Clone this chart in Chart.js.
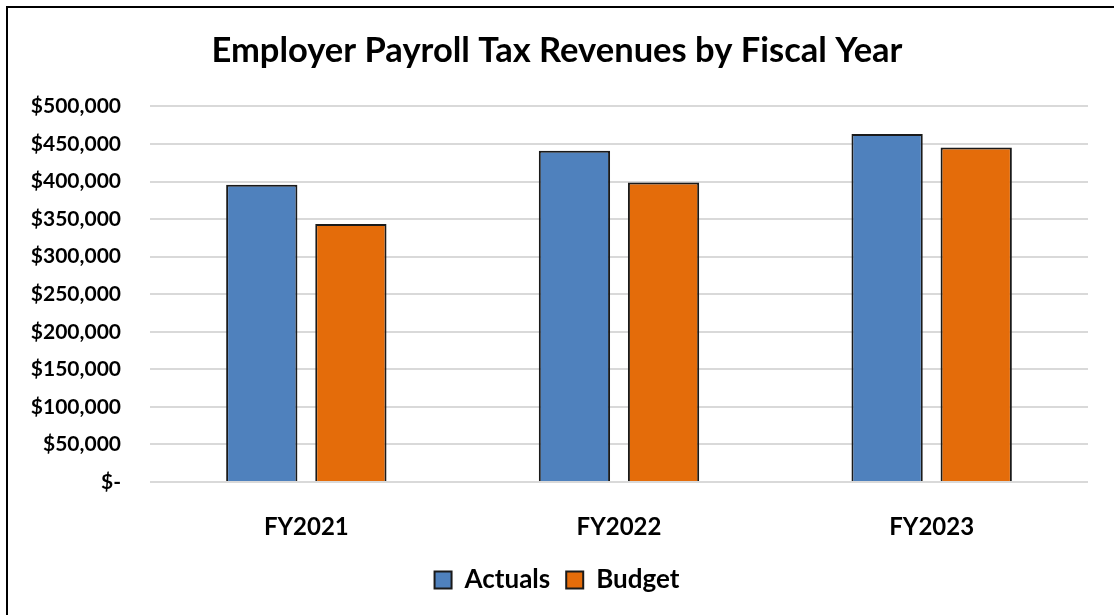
<!DOCTYPE html>
<html>
<head>
<meta charset="utf-8">
<script src="https://cdn.jsdelivr.net/npm/chart.js@4.4.1/dist/chart.umd.min.js"></script>
<style>
  html, body { margin: 0; padding: 0; background: #fff; overflow: hidden; }
  #wrap { position: relative; width: 1114px; height: 615px; }
  #frame {
    position: absolute; left: 6px; top: 6px; width: 1200px; height: 700px;
    border: 2px solid #000; pointer-events: none;
  }
</style>
</head>
<body>
<div id="wrap">
  <canvas id="myChart" width="1114" height="615"></canvas>
  <div id="frame"></div>
</div>
<script>
// ═══════════════════════════════════════
//  DONNÉES
// ═══════════════════════════════════════
const categories = ['FY2021', 'FY2022', 'FY2023'];
const actuals    = [395600, 440900, 463200];
const budget     = [343600, 398700, 445300];
const titleText  = 'Employer Payroll Tax Revenues by Fiscal Year';

const FONT = 'Lato, "Open Sans", sans-serif';

function money(v) {
  if (v === 0) return '$-';
  return '$' + v.toLocaleString('en-US');
}

const ctx = document.getElementById('myChart').getContext('2d');

new Chart(ctx, {
  type: 'bar',
  data: {
    labels: categories,
    datasets: [
      {
        label: 'Actuals',
        data: actuals,
        backgroundColor: '#4F81BD',
        borderColor: '#1a1a1a',
        borderWidth: 2,
        categoryPercentage: 0.57,
        barPercentage: 0.8
      },
      {
        label: 'Budget',
        data: budget,
        backgroundColor: '#E46C0A',
        borderColor: '#1a1a1a',
        borderWidth: 2,
        categoryPercentage: 0.57,
        barPercentage: 0.8
      }
    ]
  },
  options: {
    responsive: false,
    animation: false,
    layout: { padding: { left: 26, right: 26, top: 0, bottom: 12 } },
    plugins: {
      title: {
        display: true,
        text: titleText,
        color: '#000',
        font: { family: FONT, size: 34.5, weight: 'bold' },
        padding: { top: 30, bottom: 35 }
      },
      legend: {
        position: 'bottom',
        labels: {
          color: '#000',
          font: { family: FONT, size: 26, weight: 'bold' },
          boxWidth: 17,
          boxHeight: 17,
          padding: 16
        }
      },
      tooltip: { enabled: false }
    },
    scales: {
      x: {
        grid: { display: false },
        border: { display: false },
        ticks: {
          color: '#000',
          padding: 23,
          font: { family: FONT, size: 24, weight: 'bold' }
        },
        afterFit: s => { s.height = 69; }
      },
      y: {
        min: 0,
        max: 500000,
        grid: { color: '#D9D9D9', lineWidth: 2, drawTicks: false },
        border: { display: false },
        ticks: {
          stepSize: 50000,
          color: '#000',
          padding: 29,
          font: { family: FONT, size: 21, weight: 'bold' },
          callback: v => money(v)
        },
        afterFit: s => { s.width = 124; }
      }
    }
  }
});
</script>
</body>
</html>
